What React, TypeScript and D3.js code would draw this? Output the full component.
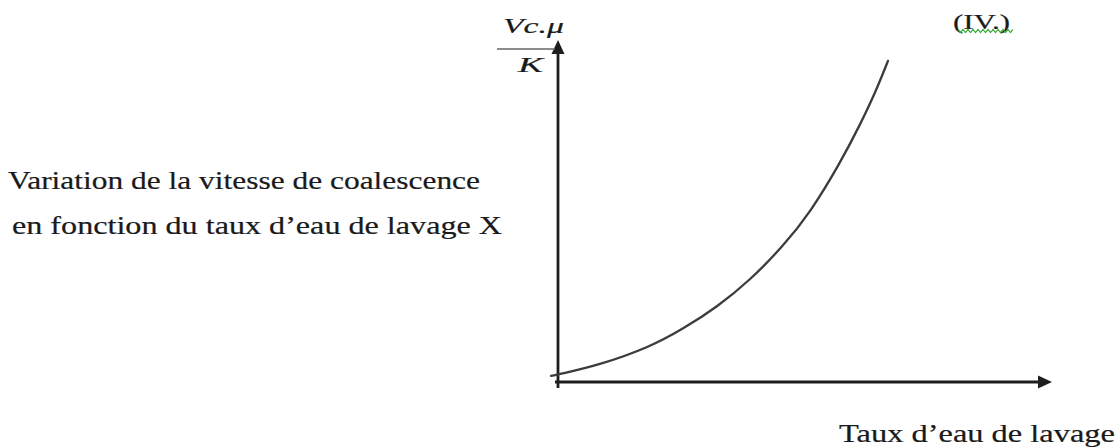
import React, { useEffect, useRef } from "react";
import * as d3 from "d3";

// Rate of coalescence (Vc·μ/K) versus wash-water ratio, arbitrary units
const washWater = [-1.4, 0.4, 8.5, 18.6, 25.3, 32.2, 38.9, 45.5, 51.0, 57.1, 61.1, 64.2, 66.8];
const coalescence = [1.8, 2.3, 5.0, 10.2, 15.5, 21.9, 29.8, 39.6, 49.4, 64.0, 75.1, 84.5, 93.9];

const titleLines = [
  "Variation de la vitesse de coalescence",
  "en fonction du taux d\u2019eau de lavage X",
];
const xAxisLabel = "Taux d\u2019eau de lavage";
const yLabelTop = "Vc.\u03bc";
const yLabelBottom = "K";
const figureTag = "(IV.)";

const W = 1117;
const H = 448;
const FONT = "'Liberation Serif', 'Times New Roman', serif";
const INK = "#1a1a1a";

export default function App() {
  const ref = useRef<SVGSVGElement | null>(null);

  useEffect(() => {
    const svg = d3.select(ref.current);
    svg.selectAll("*").remove();

    const x = d3.scaleLinear().domain([0, 100]).range([558, 1052]);
    const y = d3.scaleLinear().domain([0, 100]).range([382, 40]);

    const axisColor = "#1e1e1e";

    // x axis with arrow
    svg.append("line")
      .attr("x1", x(0) - 3).attr("y1", y(0))
      .attr("x2", x(100) - 10).attr("y2", y(0))
      .attr("stroke", axisColor).attr("stroke-width", 2.8);
    svg.append("path")
      .attr("d", `M${x(100)},${y(0)} L${x(100) - 14},${y(0) - 6.5} L${x(100) - 14},${y(0) + 6.5} Z`)
      .attr("fill", axisColor);

    // y axis with arrow
    svg.append("line")
      .attr("x1", x(0)).attr("y1", y(0) + 6)
      .attr("x2", x(0)).attr("y2", y(100) + 10)
      .attr("stroke", axisColor).attr("stroke-width", 2.8);
    svg.append("path")
      .attr("d", `M${x(0)},${y(100)} L${x(0) - 6.5},${y(100) + 14} L${x(0) + 6.5},${y(100) + 14} Z`)
      .attr("fill", axisColor);

    // curve
    const pts: [number, number][] = washWater.map((v, i) => [v, coalescence[i]]);
    const line = d3.line<[number, number]>()
      .x((d) => x(d[0]))
      .y((d) => y(d[1]))
      .curve(d3.curveBasis);
    svg.append("path")
      .attr("d", line(pts) ?? "")
      .attr("fill", "none")
      .attr("stroke", "#3c3c3c")
      .attr("stroke-width", 2.3)
      .attr("stroke-linecap", "round");

    const addText = (
      text: string,
      tx: number,
      ty: number,
      len: number,
      size: number,
      italic = false
    ) =>
      svg.append("text")
        .attr("x", tx).attr("y", ty)
        .attr("textLength", len)
        .attr("lengthAdjust", "spacingAndGlyphs")
        .attr("font-family", FONT)
        .attr("font-style", italic ? "italic" : "normal")
        .attr("font-size", size)
        .attr("fill", INK)
        .attr("stroke", INK)
        .attr("stroke-width", 0.2)
        .text(text);

    // title lines on the left
    addText(titleLines[0], 8, 189, 472, 25);
    addText(titleLines[1], 12, 234, 490, 25);

    // x axis label
    addText(xAxisLabel, 839, 442, 276, 25);

    // y axis label as a fraction
    addText(yLabelTop, 503, 33, 61, 22, true);
    svg.append("line")
      .attr("x1", 497).attr("x2", 555)
      .attr("y1", 49).attr("y2", 49)
      .attr("stroke", "#666").attr("stroke-width", 1.6);
    addText(yLabelBottom, 518, 72, 25, 22, true);

    // figure number with a wavy underline
    addText(figureTag, 953, 29, 57, 22);
    const wave: [number, number][] = [];
    for (let px = 958; px <= 1015; px += 2.5) {
      wave.push([px, 31 + (Math.round((px - 958) / 2.5) % 2 === 0 ? -1.6 : 1.6)]);
    }
    svg.append("path")
      .attr("d", d3.line()(wave) ?? "")
      .attr("fill", "none")
      .attr("stroke", "#3aaa3a")
      .attr("stroke-width", 1.2);
  }, []);

  return (
    <svg
      ref={ref}
      width={W}
      height={H}
      style={{ position: "fixed", left: 0, top: 0, background: "#fff" }}
    />
  );
}
